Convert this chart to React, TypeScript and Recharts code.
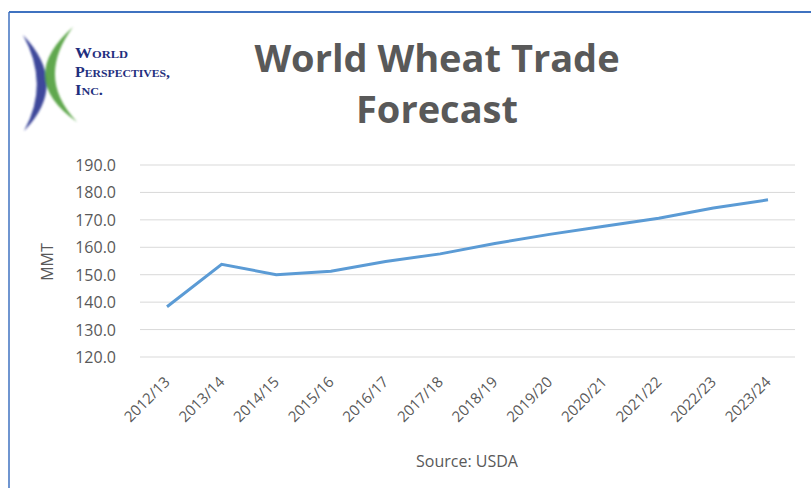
import React from 'react';
import { LineChart, Line, XAxis, YAxis, CartesianGrid } from 'recharts';

const seasons = ['2012/13', '2013/14', '2014/15', '2015/16', '2016/17', '2017/18', '2018/19', '2019/20', '2020/21', '2021/22', '2022/23', '2023/24'];
const tradeMMT = [138.3, 153.8, 150.0, 151.3, 154.8, 157.6, 161.4, 164.7, 167.7, 170.6, 174.3, 177.3];
const yTicks = [120, 130, 140, 150, 160, 170, 180, 190];

const data = seasons.map((s, i) => ({ season: s, value: tradeMMT[i] }));

const FONT = '"Open Sans", sans-serif';
const GREY = '#595959';
const LOGO_FONT = "'Liberation Serif', serif";
const NAVY = '#1f2f7e';

const XTick = (props: any) => {
  const { x, y, payload } = props;
  return (
    <g transform={`translate(${x + 1},${y + 15})`}>
      <text transform="rotate(-45)" textAnchor="end" fontFamily={FONT} fontSize={15} fill={GREY} dy={4}>
        {payload.value}
      </text>
    </g>
  );
};

const YTick = (props: any) => {
  const { y, payload } = props;
  return (
    <text x={116} y={y} dy={6} textAnchor="end" fontFamily={FONT} fontSize={16} fill={GREY}>
      {Number(payload.value).toFixed(1)}
    </text>
  );
};

export default function App() {
  return (
    <div style={{ position: 'absolute', left: 0, top: 0, width: 811, height: 488, background: '#fff' }}>
      <LineChart width={811} height={488} data={data} margin={{ top: 165, right: 16, bottom: 0, left: 0 }}>
        <CartesianGrid vertical={false} stroke="#d9d9d9" strokeWidth={1} />
        <XAxis dataKey="season" axisLine={false} tickLine={false} interval={0} tick={<XTick />} height={131} padding={{ left: 27, right: 27 }} />
        <YAxis domain={[120, 190]} ticks={yTicks} axisLine={false} tickLine={false} width={140} tick={<YTick />} />
        <Line type="linear" dataKey="value" stroke="#5b9bd5" strokeWidth={3} dot={false} isAnimationActive={false} />
      </LineChart>
      <svg width={811} height={488} style={{ position: 'absolute', left: 0, top: 0, pointerEvents: 'none' }}>
        <defs>
          <filter id="blur1"><feGaussianBlur stdDeviation="0.9" /></filter>
        </defs>
        <line x1={9} y1={12} x2={811} y2={12} stroke="#3f72c0" strokeWidth={2} />
        <line x1={9} y1={12} x2={9} y2={488} stroke="#3f72c0" strokeWidth={1.5} />
        <g filter="url(#blur1)">
          <path d="M23 35 Q70 84 24 131 Q50 84 23 35 Z" fill="#2a3590" opacity={0.9} />
          <path d="M73 27 Q15 78 77 122 Q35 78 73 27 Z" fill="#4f9e3a" opacity={0.9} />
        </g>
        <text x={75} y={58} fontFamily={LOGO_FONT} fontWeight="bold" fontSize={15} fill={NAVY} style={{ fontVariant: 'small-caps' }} textLength={53} lengthAdjust="spacingAndGlyphs">World</text>
        <text x={75} y={77} fontFamily={LOGO_FONT} fontWeight="bold" fontSize={15} fill={NAVY} style={{ fontVariant: 'small-caps' }} textLength={95} lengthAdjust="spacingAndGlyphs">Perspectives,</text>
        <text x={75} y={95} fontFamily={LOGO_FONT} fontWeight="bold" fontSize={15} fill={NAVY} style={{ fontVariant: 'small-caps' }} textLength={28} lengthAdjust="spacingAndGlyphs">Inc.</text>
        <text x={437} y={72} textAnchor="middle" fontFamily={FONT} fontWeight="bold" fontSize={38} fill={GREY}>World Wheat Trade</text>
        <text x={437} y={123} textAnchor="middle" fontFamily={FONT} fontWeight="bold" fontSize={38} fill={GREY}>Forecast</text>
        <text x={53} y={262} textAnchor="middle" transform="rotate(-90 53 262)" fontFamily={FONT} fontSize={16} fill={GREY}>MMT</text>
        <text x={467} y={467} textAnchor="middle" fontFamily={FONT} fontSize={16} fill={GREY}>Source: USDA</text>
      </svg>
    </div>
  );
}
